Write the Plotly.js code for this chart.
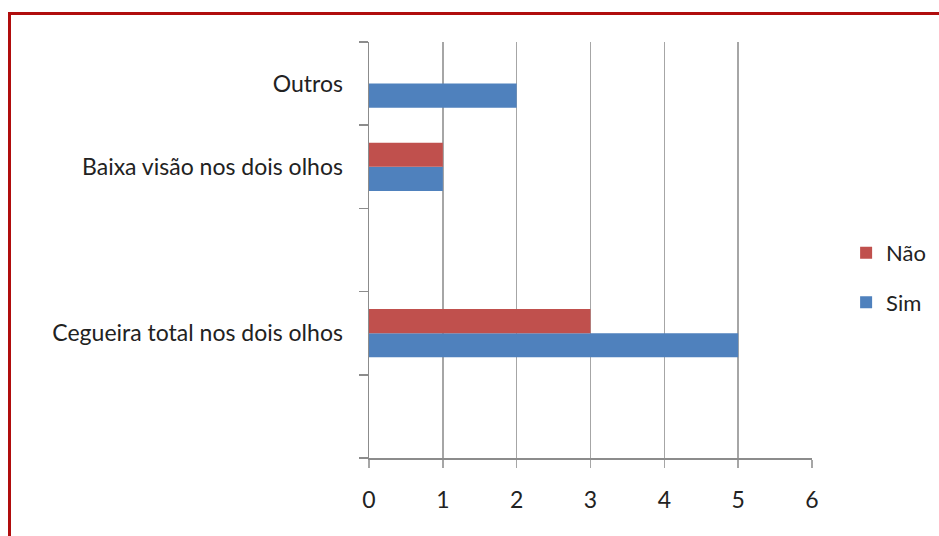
<!DOCTYPE html>
<html>
<head>
<meta charset="utf-8">
<script src="https://cdn.plot.ly/plotly-3.0.1.min.js"></script>
<style>
html,body{margin:0;padding:0;background:#fff;}
#wrap{position:relative;width:939px;height:536px;overflow:hidden;}
#chart{position:absolute;left:0;top:0;width:939px;height:536px;}
#frame{position:absolute;left:8px;top:12px;width:960px;height:560px;border-top:3px solid #b00d0d;border-left:3px solid #b00d0d;pointer-events:none;}
</style>
</head>
<body>
<div id="wrap"><div id="chart"></div><div id="frame"></div></div>
<script>
const categories = [" ", "Cegueira total nos dois olhos", "  ", "Baixa visão nos dois olhos", "Outros"];
const naoValues = [0, 3, 0, 1, 0];
const simValues = [0, 5, 0, 1, 2];
const xTicks = [0, 1, 2, 3, 4, 5, 6];

const font = {family: "Lato, 'Open Sans', sans-serif", size: 23, color: "#222"};

const traces = [
  {type: "bar", orientation: "h", name: "Sim", y: categories, x: simValues,
   marker: {color: "#4F81BD"}, legendgroup: "sim", legendrank: 2, hoverinfo: "x+name"},
  {type: "bar", orientation: "h", name: "Não", y: categories, x: naoValues,
   marker: {color: "#C0504D"}, legendgroup: "nao", legendrank: 1, hoverinfo: "x+name"}
];

const layout = {
  width: 939, height: 536,
  margin: {l: 369, r: 127, t: 42, b: 78, pad: 0, autoexpand: false},
  paper_bgcolor: "#ffffff", plot_bgcolor: "#ffffff",
  barmode: "group", bargap: 0.42, bargroupgap: 0,
  font: font,
  showlegend: true,
  legend: {x: 0.077 + 1, y: 0.433, xanchor: "left", yanchor: "middle",
           traceorder: "grouped", tracegroupgap: 18,
           font: {family: font.family, size: 22, color: "#222"},
           itemwidth: 30},
  xaxis: {range: [0, 6], tickvals: xTicks, ticktext: xTicks.map(String),
          showgrid: true, gridcolor: "#a6a6a6", gridwidth: 1.5,
          zeroline: false, showline: true, linecolor: "#8c8c8c", linewidth: 1.5,
          ticks: "outside", ticklen: 8, tickcolor: "#a6a6a6", tickwidth: 1.5,
          ticklabelstandoff: 13, tickfont: font, fixedrange: true, automargin: false},
  yaxis: {type: "category", categoryorder: "array", categoryarray: categories,
          tickson: "boundaries", showgrid: false, zeroline: false,
          showline: true, linecolor: "#8c8c8c", linewidth: 1.5,
          ticks: "outside", ticklen: 9, tickcolor: "#8c8c8c", tickwidth: 1.5,
          ticklabelstandoff: 20, tickfont: font, fixedrange: true, automargin: false}
};

Plotly.newPlot("chart", traces, layout, {displayModeBar: false, staticPlot: true});
</script>
</body>
</html>
